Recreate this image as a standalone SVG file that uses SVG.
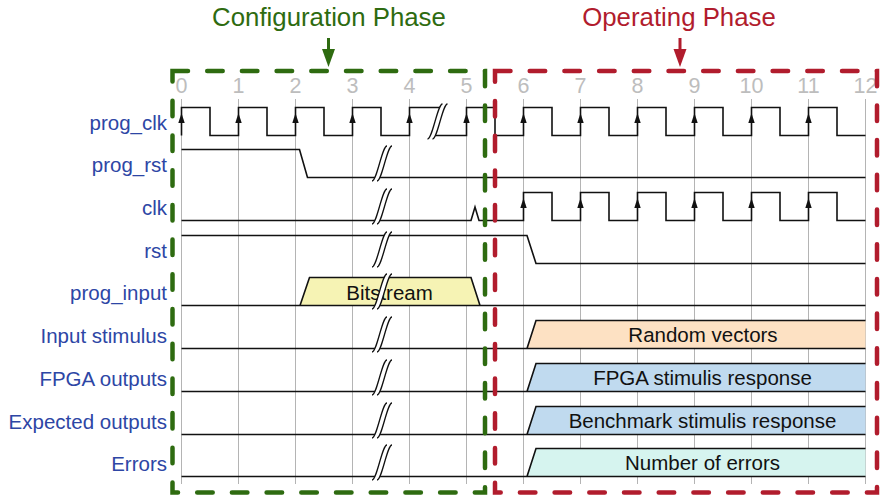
<svg xmlns="http://www.w3.org/2000/svg" xmlns:xlink="http://www.w3.org/1999/xlink" width="880" height="498" viewBox="0 0 880 498">
  <style>
    .grid { stroke: #b4b4b4; stroke-width: 1; fill: none; }
    .tick { font-family: "Liberation Sans", Arial, sans-serif; font-size: 21.5px; fill: #bdbdbd; text-anchor: middle; }
    .label { font-family: "Liberation Sans", Arial, sans-serif; font-size: 20.5px; fill: #2d46a5; text-anchor: end; }
    .wave { stroke: #111; stroke-width: 1.6; fill: none; stroke-linejoin: miter; }
    .edge { fill: #111; }
    .bustext { font-family: "Liberation Sans", Arial, sans-serif; font-size: 20.5px; fill: #111; text-anchor: middle; }
    .title { font-family: "Liberation Sans", Arial, sans-serif; font-size: 25.8px; text-anchor: middle; }
    .phase { fill: none; stroke-width: 4.5; stroke-linecap: round; stroke-dasharray: 15.5 19.2; }
    .cfg { stroke: #2e6b10; }
    .opr { stroke: #b11c2d; }
  </style>
  <defs>
    <!-- break symbol: two parallel S-curves with a white gap -->
    <g id="brk">
      <path d="M-10,17.5 C-5,17.5 0,-17.5 5,-17.5 L10,-17.5 C5,-17.5 0,17.5 -5,17.5 Z" fill="#fff" stroke="none"/>
      <path d="M-10,17.5 C-5,17.5 0,-17.5 5,-17.5 M-5,17.5 C0,17.5 5,-17.5 10,-17.5" fill="none" stroke="#111" stroke-width="1.3"/>
    </g>
    <!-- rising-edge marker for clocks -->
    <path id="up" d="M-3.2,10 L3.2,10 L0,0 Z"/>
  </defs>

  <!-- time grid -->
  <g id="grid">
    <path class="grid" d="M181.5,99 V484 M238.5,99 V484 M295.5,99 V484 M352.5,99 V484 M409.5,99 V484 M466.5,99 V484 M523.5,99 V484 M580.5,99 V484 M637.5,99 V484 M694.5,99 V484 M751.5,99 V484 M808.5,99 V484 M865.5,99 V484"/>
    <text class="tick" x="181.5" y="93">0</text>
    <text class="tick" x="238.5" y="93">1</text>
    <text class="tick" x="295.5" y="93">2</text>
    <text class="tick" x="352.5" y="93">3</text>
    <text class="tick" x="409.5" y="93">4</text>
    <text class="tick" x="466.5" y="93">5</text>
    <text class="tick" x="523.5" y="93">6</text>
    <text class="tick" x="580.5" y="93">7</text>
    <text class="tick" x="637.5" y="93">8</text>
    <text class="tick" x="694.5" y="93">9</text>
    <text class="tick" x="751.5" y="93">10</text>
    <text class="tick" x="808.5" y="93">11</text>
    <text class="tick" x="865.5" y="93">12</text>
  </g>

  <!-- prog_clk -->
  <g id="prog_clk">
    <text class="label" x="167" y="130">prog_clk</text>
    <path class="wave" d="M181.5,135.5 V107.5 H210 V135.5 H238.5 V107.5 H267 V135.5 H295.5 V107.5 H324 V135.5 H352.5 V107.5 H381 V135.5 H409.5 V107.5 H442"/>
    <path class="wave" d="M433,135.5 H466.5 V107.5 H495 V135.5 H523.5 V107.5 H552 V135.5 H580.5 V107.5 H609 V135.5 H637.5 V107.5 H666 V135.5 H694.5 V107.5 H723 V135.5 H751.5 V107.5 H780 V135.5 H808.5 V107.5 H837 V135.5 H865.5"/>
    <g class="edge">
      <use xlink:href="#up" x="181.5" y="113"/>
      <use xlink:href="#up" x="238.5" y="113"/>
      <use xlink:href="#up" x="295.5" y="113"/>
      <use xlink:href="#up" x="352.5" y="113"/>
      <use xlink:href="#up" x="409.5" y="113"/>
      <use xlink:href="#up" x="466.5" y="113"/>
      <use xlink:href="#up" x="523.5" y="113"/>
      <use xlink:href="#up" x="580.5" y="113"/>
      <use xlink:href="#up" x="637.5" y="113"/>
      <use xlink:href="#up" x="694.5" y="113"/>
      <use xlink:href="#up" x="751.5" y="113"/>
      <use xlink:href="#up" x="808.5" y="113"/>
    </g>
    <use xlink:href="#brk" x="437.5" y="121.5"/>
  </g>

  <!-- prog_rst -->
  <g id="prog_rst">
    <text class="label" x="167" y="172">prog_rst</text>
    <path class="wave" d="M181.5,149.5 H299.5 L307.5,177.5 H865.5"/>
    <use xlink:href="#brk" x="382" y="163.5"/>
  </g>

  <!-- clk -->
  <g id="clk">
    <text class="label" x="167" y="215">clk</text>
    <path class="wave" d="M181.5,220.5 H471 L475,207 L479,220.5 H523.5 V192.5 H552 V220.5 H580.5 V192.5 H609 V220.5 H637.5 V192.5 H666 V220.5 H694.5 V192.5 H723 V220.5 H751.5 V192.5 H780 V220.5 H808.5 V192.5 H837 V220.5 H865.5"/>
    <g class="edge">
      <use xlink:href="#up" x="523.5" y="198"/>
      <use xlink:href="#up" x="580.5" y="198"/>
      <use xlink:href="#up" x="637.5" y="198"/>
      <use xlink:href="#up" x="694.5" y="198"/>
      <use xlink:href="#up" x="751.5" y="198"/>
      <use xlink:href="#up" x="808.5" y="198"/>
    </g>
    <use xlink:href="#brk" x="382" y="206.5"/>
  </g>

  <!-- rst -->
  <g id="rst">
    <text class="label" x="167" y="258">rst</text>
    <path class="wave" d="M181.5,235.5 H527 L536,263.5 H865.5"/>
    <use xlink:href="#brk" x="382" y="249.5"/>
  </g>

  <!-- prog_input -->
  <g id="prog_input">
    <text class="label" x="167" y="300">prog_input</text>
    <path d="M300,305.5 L309.5,277.5 H471 L480,305.5 Z" fill="#f6f3b4"/>
    <path class="wave" d="M181.5,305.5 H865.5 M300,305.5 L309.5,277.5 H471 L480,305.5"/>
    <text class="bustext" x="389.5" y="299.5">Bitstream</text>
    <use xlink:href="#brk" x="382" y="291.5"/>
  </g>

  <!-- Input stimulus -->
  <g id="input_stimulus">
    <text class="label" x="167" y="342.5">Input stimulus</text>
    <path d="M527,348.5 L536,320.5 H865.5 V348.5 Z" fill="#fde1c3"/>
    <path class="wave" d="M181.5,348.5 H865.5 M527,348.5 L536,320.5 H865.5"/>
    <text class="bustext" x="703" y="342">Random vectors</text>
    <use xlink:href="#brk" x="382" y="334.5"/>
  </g>

  <!-- FPGA outputs -->
  <g id="fpga_outputs">
    <text class="label" x="167" y="385.5">FPGA outputs</text>
    <path d="M527,391.5 L536,363.5 H865.5 V391.5 Z" fill="#c0daef"/>
    <path class="wave" d="M181.5,391.5 H865.5 M527,391.5 L536,363.5 H865.5"/>
    <text class="bustext" x="702.5" y="385">FPGA stimulis response</text>
    <use xlink:href="#brk" x="382" y="377.5"/>
  </g>

  <!-- Expected outputs -->
  <g id="expected_outputs">
    <text class="label" x="167" y="428.5">Expected outputs</text>
    <path d="M527,434.5 L536,406.5 H865.5 V434.5 Z" fill="#c0daef"/>
    <path class="wave" d="M181.5,434.5 H865.5 M527,434.5 L536,406.5 H865.5"/>
    <text class="bustext" x="702.5" y="428">Benchmark stimulis response</text>
    <use xlink:href="#brk" x="382" y="420.5"/>
  </g>

  <!-- Errors -->
  <g id="errors">
    <text class="label" x="167" y="470.5">Errors</text>
    <path d="M527,476.5 L536,448.5 H865.5 V476.5 Z" fill="#d6f4ef"/>
    <path class="wave" d="M181.5,476.5 H865.5 M527,476.5 L536,448.5 H865.5"/>
    <text class="bustext" x="702.5" y="470">Number of errors</text>
    <use xlink:href="#brk" x="382" y="462.5"/>
  </g>

  <!-- phase regions -->
  <g id="configuration_phase">
    <path class="phase cfg" d="M172.5,71 H485 V492.5 H172.5 Z"/>
    <text class="title" x="329" y="26" fill="#2e6b10">Configuration Phase</text>
  </g>
  <g id="operating_phase">
    <path class="phase opr" d="M495,71 H877 V492.5 H495 Z"/>
    <text class="title" x="679" y="26" fill="#b11c2d">Operating Phase</text>
  </g>

  <!-- title pointers -->
  <g id="connectors">
    <path d="M328.5,38 V52" stroke="#2e6b10" stroke-width="3" fill="none"/>
    <path d="M322,49 L335,49 L328.5,67 Z" fill="#2e6b10"/>
    <path d="M680,38 V52" stroke="#b11c2d" stroke-width="3" fill="none"/>
    <path d="M673.5,49 L686.5,49 L680,67 Z" fill="#b11c2d"/>
  </g>
</svg>
